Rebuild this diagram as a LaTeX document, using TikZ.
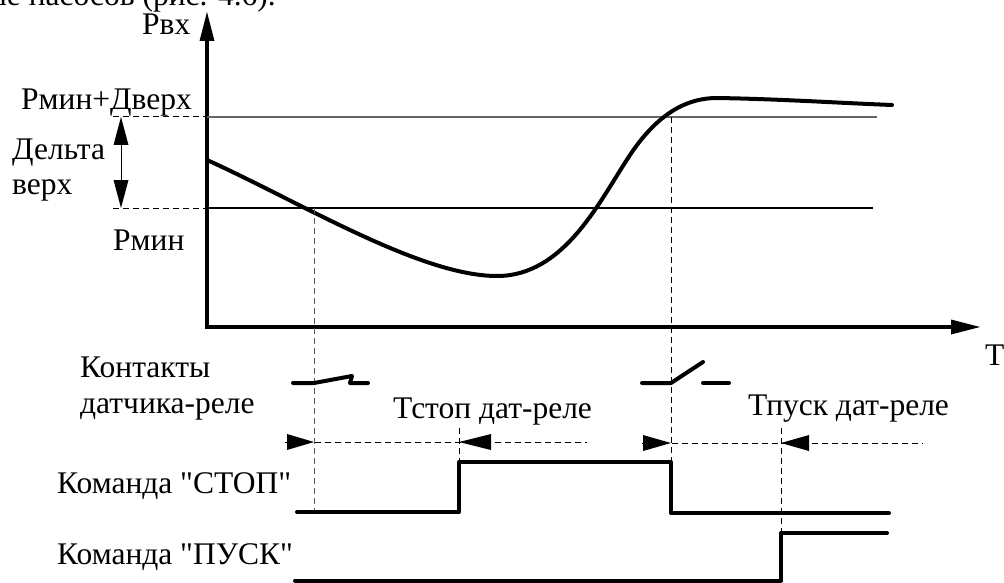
\documentclass[tikz,border=0pt]{standalone}
\usepackage{fontspec}
\setmainfont{Liberation Serif}[Ligatures=TeXOff]
\begin{document}
\begin{tikzpicture}[x=1pt,y=-1pt,
  lbl/.style={inner sep=0pt,anchor=base west,font=\fontsize{31.5}{35}\selectfont},
  thick line/.style={line width=4pt,line cap=round,line join=round},
  thin line/.style={line width=1.1pt},
  guide/.style={dashed,dash pattern=on 6pt off 4pt,line width=1pt},
  head/.style={fill=black}]
\useasboundingbox (0,0) rectangle (1004,583);
\clip (0,0) rectangle (1004,583);

% running text of the page above
\node[lbl,anchor=base east] (page) at (276,6) {ие насосов (рис. 4.6).};

% axes
\coordinate (O) at (207,327);
\coordinate (ytip) at (207,12);
\coordinate (xtip) at (980,327);
\draw[line width=4pt] (207,40) -- (O) -- (953,327);
\fill[head] (ytip) -- (199.5,41) -- (214.5,41) -- cycle;
\fill[head] (xtip) -- (951,319.5) -- (951,334.5) -- cycle;
\node[lbl] (pin) at (142,35) {Рвх};
\node[lbl] (T) at (985,365) {T};

% threshold levels
\coordinate (hiL) at (113,117);
\coordinate (hiR) at (877,117);
\coordinate (loL) at (113,208);
\coordinate (loR) at (873,208);
\draw[guide] (hiL) -- (207,117);
\draw[guide] (loL) -- (207,208);
\draw[thin line,black!60] (207,117) -- (hiR);
\draw[thin line] (207,208) -- (loR);
\node[lbl] (hiLbl) at (21,110) {Рмин+Дверх};
\node[lbl] (loLbl) at (113,250) {Рмин};
\node[lbl] (d1) at (12,160) {Дельта};
\node[lbl] (d2) at (12,194) {верх};

% hysteresis width marker
\draw[line width=1pt] (121,140) -- (121,185);
\fill[head] (121,117) -- (113.5,145) -- (128.5,145) -- cycle;
\fill[head] (121,208) -- (113.5,180) -- (128.5,180) -- cycle;

% inlet pressure curve
\draw[thick line] (207,160) .. controls (300,202) and (420,276) .. (497,276)
  .. controls (565,276) and (600,200) .. (630,155)
  .. controls (660,110) and (690,98) .. (717,98)
  .. controls (780,99) and (840,103) .. (892,105);

% switching instants
\coordinate (s1) at (314,208);
\coordinate (s2) at (671,117);
\draw[guide,black!65] (s1) -- (314,512);
\draw[guide] (s2) -- (671,462);
\draw[guide] (459,428) -- (459,462);
\draw[guide] (781,428) -- (781,533);

% relay contacts
\draw[thick line] (293,383) -- (314,383) -- (352,376) -- (350,383) -- (368,383);
\draw[thick line] (642,383) -- (671,383) -- (703,362);
\draw[thick line] (703,383) -- (729,383);
\node[lbl] (c1) at (80,377) {Контакты};
\node[lbl] (c2) at (80,413) {датчика-реле};

% delay intervals
\draw[guide] (285,442) -- (587,442);
\fill[head] (314,442) -- (287,434) -- (287,450) -- cycle;
\fill[head] (459,442) -- (491,434) -- (491,450) -- cycle;
\draw[guide] (642,443) -- (923,443);
\fill[head] (671,443) -- (643,435) -- (643,451) -- cycle;
\fill[head] (781,443) -- (809,435) -- (809,451) -- cycle;
\node[lbl] (tstop) at (393,418) {Тстоп дат-реле};
\node[lbl] (tpusk) at (748,415) {Тпуск дат-реле};

% command signals
\draw[thick line] (297,512) -- (459,512) -- (459,462) -- (671,462) -- (671,513) -- (889,513);
\draw[thick line] (295,580.5) -- (781,580.5) -- (781,533) -- (887,533);
\node[lbl] (stop) at (57,493) {Команда "СТОП"};
\node[lbl] (pusk) at (57,564) {Команда "ПУСК"};
\end{tikzpicture}
\end{document}
